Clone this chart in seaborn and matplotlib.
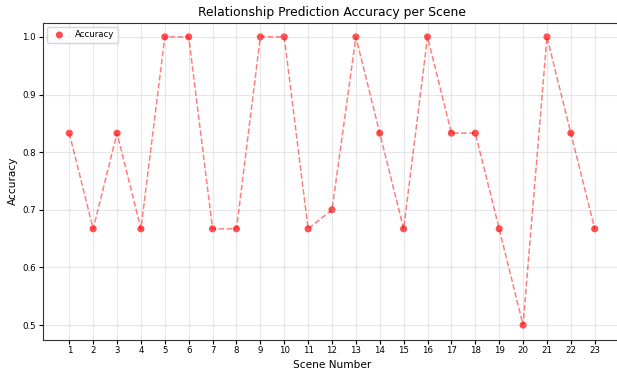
import numpy as np
import pandas as pd
import matplotlib
matplotlib.use('Agg')
import matplotlib.pyplot as plt
import seaborn as sns

scenes = list(range(1, 24))
accuracy = [0.833, 0.667, 0.833, 0.667, 1.0, 1.0, 0.667, 0.667, 1.0, 1.0,
            0.667, 0.7, 1.0, 0.833, 0.667, 1.0, 0.833, 0.833, 0.667, 0.5,
            1.0, 0.833, 0.667]

df = pd.DataFrame({'Scene': scenes, 'Accuracy': accuracy})

fig = plt.figure(figsize=(6.17, 3.7), dpi=100)
# axes runs slightly past the right edge, as in the reference crop
ax = fig.add_axes([43 / 617, 30.5 / 370, 578 / 617, 317 / 370])
sns.lineplot(data=df, x='Scene', y='Accuracy', color='red', linestyle='--',
             linewidth=1.1, alpha=0.5, ax=ax)
sns.scatterplot(data=df, x='Scene', y='Accuracy', color='red', alpha=0.7,
                s=26, edgecolor='none', label='Accuracy', ax=ax)
ax.set_xticks(scenes)
ax.set_xlim(-0.1, 24.1)
ax.set_ylim(0.475, 1.025)
ax.set_title('Relationship Prediction Accuracy per Scene', fontsize=8.9, pad=5)
ax.set_xlabel('Scene Number', fontsize=7.6, labelpad=3)
ax.set_ylabel('Accuracy', fontsize=7.6, labelpad=3)
ax.tick_params(labelsize=6.2, length=3, pad=2)
for sp in ax.spines.values():
    sp.set_color('#333333')
ax.grid(True, alpha=0.3)
ax.legend(loc='upper left', fontsize=6.2)
plt.savefig('out.png', dpi=100)
